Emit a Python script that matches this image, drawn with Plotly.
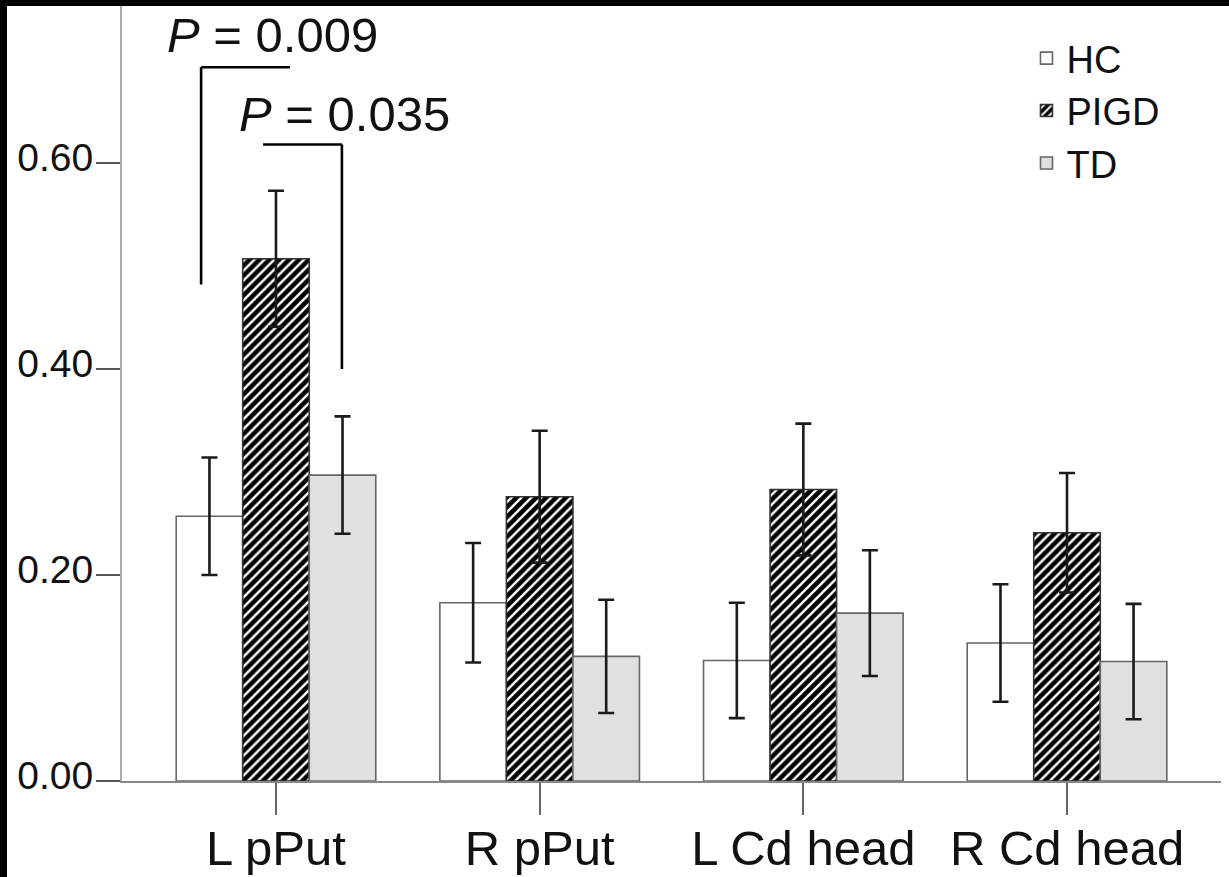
import plotly.graph_objects as go

categories = ["L pPut", "R pPut", "L Cd head", "R Cd head"]
groups = ["HC", "PIGD", "TD"]
hc_mean = [0.257, 0.173, 0.117, 0.134]
hc_err = [0.057, 0.058, 0.056, 0.057]
pigd_mean = [0.507, 0.276, 0.283, 0.241]
pigd_err = [0.066, 0.064, 0.064, 0.058]
td_mean = [0.297, 0.121, 0.163, 0.116]
td_err = [0.057, 0.055, 0.061, 0.056]

FONT = "Liberation Sans, Arial, sans-serif"
EDGE = "#666666"
ERR = dict(type="data", visible=True, thickness=2.6, width=8, color="#1a1a1a")

fig = go.Figure()
fig.add_trace(go.Bar(
    name="HC", x=categories, y=hc_mean,
    error_y=dict(array=hc_err, **ERR),
    marker=dict(color="white", line=dict(color=EDGE, width=1.6)),
))
fig.add_trace(go.Bar(
    name="PIGD", x=categories, y=pigd_mean,
    error_y=dict(array=pigd_err, **ERR),
    marker=dict(color="black", line=dict(color="#333333", width=1.6),
                pattern=dict(shape="/", fgcolor="white", bgcolor="black",
                             size=7, solidity=0.35, fillmode="replace")),
))
fig.add_trace(go.Bar(
    name="TD", x=categories, y=td_mean,
    error_y=dict(array=td_err, **ERR),
    marker=dict(color="#e0e0e0", line=dict(color=EDGE, width=1.6)),
))

# significance brackets (data coordinates)
brackets = [
    [(-0.284, 0.482), (-0.284, 0.693), (0.053, 0.693)],
    [(-0.049, 0.618), (0.250, 0.618), (0.250, 0.400)],
]
shapes = []
for br in brackets:
    for (xa, ya), (xb, yb) in zip(br[:-1], br[1:]):
        shapes.append(dict(type="line", xref="x", yref="y", x0=xa, y0=ya,
                           x1=xb, y1=yb, line=dict(color="black", width=2.6)))

# black frame strips at top and left of the image
W, H = 1229, 877
L, R, T, B = 122, 8, 6, 96
pw, ph = W - L - R, H - T - B
def px(xp):
    return (xp - L) / pw
def py(yp):
    return (H - B - yp) / ph
shapes.append(dict(type="rect", xref="paper", yref="paper", x0=px(0), x1=px(W),
                   y0=py(6), y1=py(0), fillcolor="black", line=dict(width=0), layer="above"))
shapes.append(dict(type="rect", xref="paper", yref="paper", x0=px(0), x1=px(7),
                   y0=py(H), y1=py(0), fillcolor="black", line=dict(width=0), layer="above"))

annotations = [
    dict(x=-0.421, y=0.724, xref="x", yref="y", text="<i>P</i> = 0.009",
         showarrow=False, xanchor="left", yanchor="middle",
         font=dict(family=FONT, size=49, color="#111111")),
    dict(x=-0.148, y=0.648, xref="x", yref="y", text="<i>P</i> = 0.035",
         showarrow=False, xanchor="left", yanchor="middle",
         font=dict(family=FONT, size=49, color="#111111")),
]

fig.update_layout(
    width=W, height=H,
    margin=dict(l=L, r=R, t=T, b=B, pad=0, autoexpand=False),
    paper_bgcolor="white", plot_bgcolor="white",
    barmode="group", bargap=0.243, bargroupgap=0,
    font=dict(family=FONT, color="#111111"),
    shapes=shapes, annotations=annotations,
    legend=dict(x=0.823, y=0.973, xanchor="left", yanchor="top",
                bgcolor="rgba(0,0,0,0)", font=dict(family=FONT, size=38, color="#111111"),
                itemwidth=30, tracegroupgap=0),
    xaxis=dict(range=[-0.584, 3.584], showline=True, linecolor="#888888", linewidth=2,
               ticks="outside", ticklen=32, tickwidth=2, tickcolor="#666666",
               tickfont=dict(family=FONT, size=49, color="#111111"),
               ticklabelstandoff=-9, automargin=False,
               showgrid=False, zeroline=False),
    yaxis=dict(range=[0, 0.7524], showline=True, linecolor="#aaaaaa", linewidth=2,
               ticks="outside", ticklen=24, tickwidth=2, tickcolor="#555555",
               tickvals=[0, 0.2, 0.4, 0.6], ticktext=["0.00", "0.20", "0.40", "0.60"],
               tickfont=dict(family=FONT, size=39, color="#111111"),
               ticklabelshift=-6, ticklabelstandoff=-5, automargin=False,
               showgrid=False, zeroline=False),
)

fig.write_html("out.html", config={"displayModeBar": False},
               post_script="document.body.style.margin='0';document.body.style.overflow='hidden';")
